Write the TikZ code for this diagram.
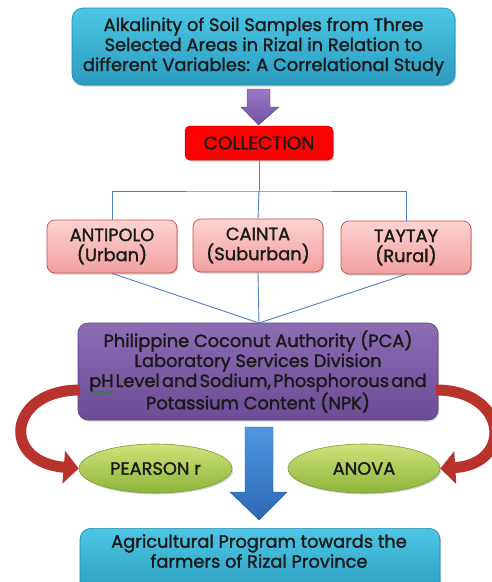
\documentclass[tikz,border=0pt]{standalone}
\usepackage{fontspec}
\setmainfont{Poppins}[FakeBold=1.6]
\usetikzlibrary{arrows.meta,shadows,decorations.pathmorphing,shapes.geometric}
\definecolor{cyanT}{HTML}{4CC6E4}
\definecolor{cyanB}{HTML}{2A9CC0}
\definecolor{cyanD}{HTML}{2689A8}
\definecolor{pinkT}{HTML}{FBD3D2}
\definecolor{pinkB}{HTML}{F2A09E}
\definecolor{pinkD}{HTML}{C0504D}
\definecolor{purT}{HTML}{8B6DB4}
\definecolor{purB}{HTML}{6C4C95}
\definecolor{purD}{HTML}{5E4283}
\definecolor{grnT}{HTML}{CFE37A}
\definecolor{grnB}{HTML}{8DB43A}
\definecolor{grnD}{HTML}{7B9B35}
\definecolor{lineblue}{HTML}{4F81BD}
\definecolor{redarr}{HTML}{B9332D}
\definecolor{bluT}{HTML}{4F97E0}
\definecolor{bluB}{HTML}{2C69B5}
\definecolor{arrpurT}{HTML}{9A7AC6}
\definecolor{arrpurB}{HTML}{7050A0}
\definecolor{txtc}{HTML}{1A1A1A}
\tikzset{
  sh/.style={drop shadow={opacity=0.35,shadow xshift=1.2pt,shadow yshift=-1.5pt}},
  cyanbox/.style={draw=cyanD,line width=0.6pt,rounded corners=11pt,top color=cyanT,bottom color=cyanB,sh,align=center,inner sep=0pt},
  redbox/.style={draw=red!80!black,line width=0.5pt,rounded corners=5pt,fill=red,sh,align=center,inner sep=0pt},
  pinkbox/.style={draw=pinkD,line width=0.7pt,rounded corners=8pt,top color=pinkT,bottom color=pinkB,sh,align=center,inner sep=0pt,minimum width=130pt,minimum height=53pt},
  purbox/.style={draw=purD,line width=0.6pt,rounded corners=10pt,top color=purT,bottom color=purB,sh,align=center,inner sep=0pt},
  grnell/.style={ellipse,draw=grnD,line width=0.6pt,top color=grnT,bottom color=grnB,sh,align=center,inner sep=0pt,minimum height=49pt},
  conn/.style={draw=lineblue,line width=0.9pt},
  redarrow/.style={draw=redarr,line width=11pt,-{Triangle[width=32pt,length=15pt]}},
  txt/.style={font=\fontsize{17.8}{20}\selectfont,text=txtc},
}
\begin{document}
\begin{tikzpicture}[x=1pt,y=-1pt]
\useasboundingbox (0,0) rectangle (492,582);
% title
\node[cyanbox,txt,minimum width=383pt,minimum height=77pt] (title) at (263.5,46.5)
  {Alkalinity of Soil Samples from Three\\Selected Areas in Rizal in Relation to\\different Variables: A Correlational Study};
% purple arrow
\path[top color=arrpurT,bottom color=arrpurB,draw=arrpurB!80!black,line width=0.4pt]
  (247,89) -- (270,89) -- (270,107) -- (279,107) -- (258.5,125) -- (241,107) -- (247,107) -- cycle;
% collection
\node[redbox,minimum width=148pt,minimum height=34pt,font=\fontsize{18.5}{20}\selectfont,text=txtc] (coll) at (259,143) {COLLECTION};
% pink boxes
\node[pinkbox,txt] (antipolo) at (112,246.5) {ANTIPOLO\\(Urban)};
\node[pinkbox,txt] (cainta) at (258,245.5) {CAINTA\\(Suburban)};
\node[pinkbox,txt] (taytay) at (406,247.5) {TAYTAY\\(Rural)};
% connectors top
\coordinate (hub) at (259,191);
\draw[conn] (coll.south) -- (hub);
\draw[conn] (antipolo.north) |- (hub) -| (taytay.north);
\draw[conn] (hub) -- (cainta.north);
% purple box
\node[purbox,txt,minimum width=360pt,minimum height=97pt] (pca) at (258,371.5)
  {Philippine Coconut Authority (PCA)\\Laboratory Services Division\\{\spaceskip=0.12em plus 0.05em\relax pH Level and Sodium, Phosphorous and}\\Potassium Content (NPK)};
\coordinate (join) at (259,323);
\draw[conn] (antipolo.south) -- (join);
\draw[conn] (cainta.south) -- (join);
\draw[conn] (taytay.south) -- (join);
% green squiggle under pH
\draw[green!60!black,line width=0.5pt,decorate,decoration={snake,amplitude=0.6pt,segment length=3pt}] (90,392) -- (117,392);
% ellipses
\node[grnell,txt,minimum width=153pt] (pearson) at (155.5,468.5) {PEARSON r};
\node[grnell,txt,minimum width=152pt] (anova) at (364,468.5) {ANOVA};
% red curved arrows
\coordinate (ls) at (80,390);
\coordinate (rs) at (436,390);
\draw[redarrow] (ls) .. controls (8,390) and (0,462) .. (pearson.west);
\draw[redarrow] (rs) .. controls (508,390) and (514,464) .. (anova.east);
% blue arrow
\path[top color=bluT,bottom color=bluB,draw=bluB!80!black,line width=0.4pt]
  (245,427) -- (273,427) -- (273,492) -- (287,492) -- (259,520) -- (230,492) -- (245,492) -- cycle;
% bottom box
\node[cyanbox,txt,minimum width=360pt,minimum height=70pt,anchor=north] (prog) at (260,528) {};
\node[txt,align=center] (progtext) at (259,551) {Agricultural Program towards the\\farmers of Rizal Province};
\end{tikzpicture}
\end{document}
